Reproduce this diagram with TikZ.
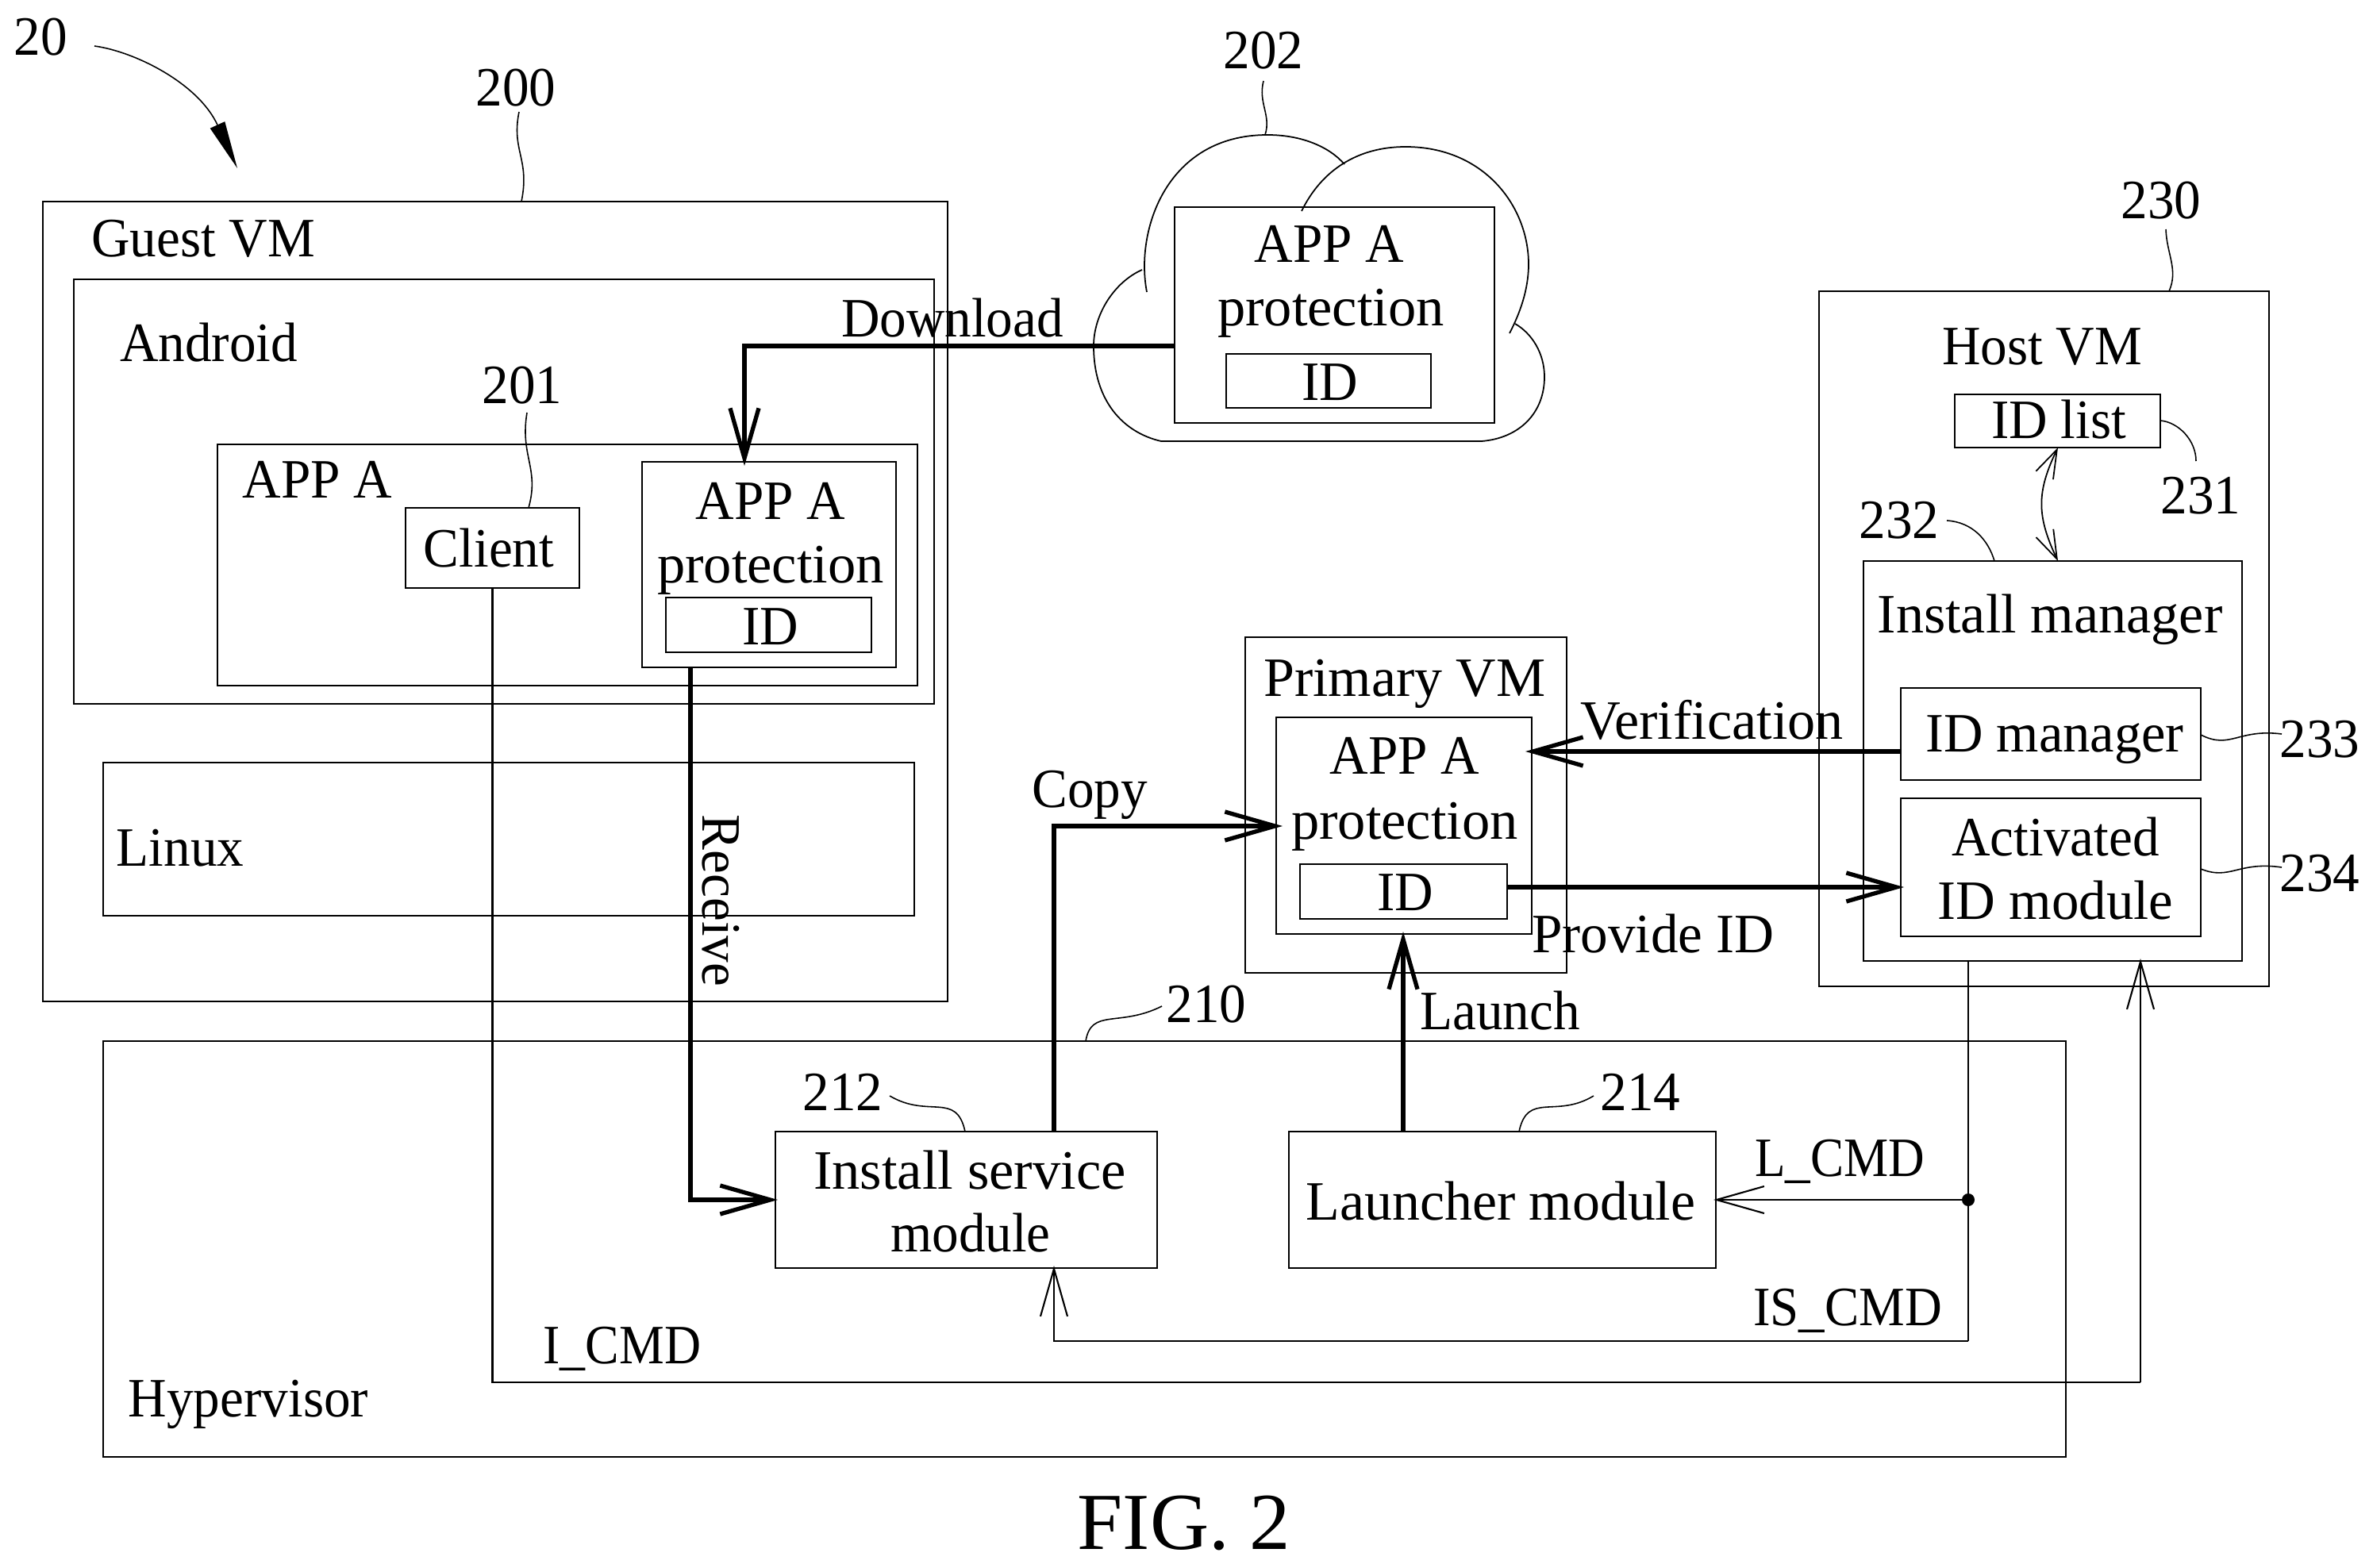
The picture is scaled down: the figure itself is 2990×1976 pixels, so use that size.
\documentclass[tikz,border=0pt]{standalone}
\usepackage{fontspec}
\setmainfont[FakeStretch=0.96]{Liberation Serif}
\usetikzlibrary{arrows.meta}
\tikzset{
  boxn/.style={draw=black,line width=0.75pt,inner sep=0pt,outer sep=0pt,fill=none},
  lbl/.style={anchor=base,inner sep=0pt,outer sep=0pt,font=\fontsize{19.9}{23}\selectfont},
  figlbl/.style={anchor=base,inner sep=0pt,outer sep=0pt,font=\fontsize{29}{31}\selectfont},
  leader/.style={draw=black,line width=0.45pt},
  outline/.style={draw=black,line width=0.5pt},
  heavy/.style={draw=black,line width=1.5pt,shorten >=-0.3mm,-{Straight Barb[length=6.3mm,width=3.6mm,line width=1.5pt]}},
  light/.style={draw=black,line width=0.6pt},
  lightarrow/.style={draw=black,line width=0.6pt,shorten >=-0.3mm,-{Straight Barb[length=6mm,width=3.4mm,line width=0.6pt]}},
  duo/.style={draw=black,line width=0.5pt,{Straight Barb[length=3.6mm,width=2.4mm,line width=0.5pt]}-{Straight Barb[length=3.6mm,width=2.4mm,line width=0.5pt]}},
}
\newcommand\bx[5]{\node[boxn,minimum width={(#4-#2)*0.01cm},minimum height={(#5-#3)*0.01cm}] (#1) at ({(#2+#4)/2},{(#3+#5)/2}) {};}
\newcommand\lb[4]{\node[lbl] (#1) at (#2,{#3+2}) {#4};}
\newcommand\sw[2]{\scalebox{#1}[1]{#2}}
\begin{document}
\begin{tikzpicture}[x=0.01cm,y=-0.01cm]
\useasboundingbox[fill=white] (0,0) rectangle (2990,1976);
% cloud
\draw[outline] (1445,368) .. controls (1430,290) and (1470,170) .. (1597,170) .. controls (1640,170) and (1675,185) .. (1694,207);
\draw[outline] (1640,266) .. controls (1665,215) and (1710,185) .. (1771,185) .. controls (1870,185) and (1926,260) .. (1926,333) .. controls (1926,365) and (1915,395) .. (1902,420);
\draw[outline] (1439,340) .. controls (1405,355) and (1378,395) .. (1378,436) .. controls (1378,505) and (1415,545) .. (1463,556) -- (1867,556) .. controls (1915,552) and (1946,520) .. (1946,475) .. controls (1946,445) and (1930,420) .. (1909,408);
% boxes
\bx{guest}{54}{254}{1194}{1262}
\bx{android}{93}{352}{1177}{887}
\bx{appa}{274}{560}{1156}{864}
\bx{client}{511}{640}{730}{741}
\bx{prot}{809}{582}{1129}{841}
\bx{protid}{839}{753}{1098}{822}
\bx{linux}{130}{961}{1152}{1154}
\bx{hyper}{130}{1312}{2603}{1836}
\bx{install}{977}{1426}{1458}{1598}
\bx{launcher}{1624}{1426}{2162}{1598}
\bx{cloudbox}{1480}{261}{1883}{533}
\bx{cloudid}{1545}{446}{1803}{514}
\bx{primary}{1569}{803}{1974}{1226}
\bx{primprot}{1608}{904}{1930}{1177}
\bx{primid}{1638}{1089}{1899}{1158}
\bx{host}{2292}{367}{2859}{1243}
\bx{idlist}{2463}{497}{2722}{564}
\bx{instmgr}{2348}{707}{2825}{1211}
\bx{idmgr}{2395}{867}{2773}{983}
\bx{activ}{2395}{1006}{2773}{1180}
% labels
\lb{t20}{51}{68}{20}
\lb{t200}{650}{132}{200}
\lb{t201}{658}{507}{201}
\lb{t202}{1592}{85}{202}
\lb{t230}{2723}{274}{230}
\lb{t231}{2773}{646}{231}
\lb{t232}{2393}{677}{232}
\lb{t233}{2923}{952}{233}
\lb{t234}{2923}{1121}{234}
\lb{t210}{1520}{1286}{210}
\lb{t212}{1062}{1397}{212}
\lb{t214}{2067}{1397}{214}
\lb{tguest}{256}{322}{Guest VM}
\lb{tandroid}{263}{454}{Android}
\lb{tappa}{400}{625}{APP A}
\lb{tclient}{616}{713}{Client}
\lb{tcapp}{1675}{329}{APP A}
\lb{tcprot}{1677}{409}{\sw{1.05}{protection}}
\lb{tcid}{1676}{503}{ID}
\lb{tdown}{1200}{423}{Download}
\lb{tgapp}{971}{652}{APP A}
\lb{tgprot}{971}{733}{\sw{1.05}{protection}}
\lb{tgid}{971}{810}{ID}
\lb{tlinux}{227}{1089}{Linux}
\node[lbl,anchor=center,rotate=-90] (trecv) at (908,1135) {Receive};
\lb{tcopy}{1373}{1015}{Copy}
\lb{tprim}{1770}{875}{\sw{1.04}{Primary VM}}
\lb{tpapp}{1770}{973}{APP A}
\lb{tpprot}{1770}{1055}{\sw{1.05}{protection}}
\lb{tpid}{1771}{1145}{ID}
\lb{tverif}{2157}{929}{\sw{1.045}{Verification}}
\lb{tprov}{2083}{1198}{\sw{1.03}{Provide ID}}
\lb{tlaunch}{1890}{1295}{Launch}
\lb{thost}{2573}{458}{Host VM}
\lb{tidlist}{2594}{551}{ID list}
\lb{timgr}{2583}{795}{\sw{1.045}{Install manager}}
\lb{tidmgr}{2589}{945}{\sw{1.02}{ID manager}}
\lb{tact}{2590}{1076}{Activated}
\lb{tidmod}{2590}{1156}{\sw{1.025}{ID module}}
\lb{tinst}{1222}{1496}{\sw{1.05}{Install service}}
\lb{tmod}{1223}{1575}{module}
\lb{tlmod}{1891}{1535}{\sw{1.04}{Launcher module}}
\lb{tlcmd}{2318}{1480}{\sw{0.94}{L\_CMD}}
\lb{tiscmd}{2328}{1668}{\sw{0.965}{IS\_CMD}}
\lb{ticmd}{784}{1716}{\sw{0.95}{I\_CMD}}
\lb{thyper}{313}{1783}{Hypervisor}
\node[figlbl] (tfig) at (1492,1952) {\sw{1.05}{FIG. 2}};
% leaders
\coordinate (a20) at (119,58);
\coordinate (e20) at (299,212);
\coordinate (a200) at (654,141);
\coordinate (a201) at (664,520);
\coordinate (a202) at (1592,102);
\coordinate (a230) at (2729,289);
\coordinate (a231) at (2767,581);
\coordinate (a232) at (2453,656);
\coordinate (a233) at (2875,925);
\coordinate (a234) at (2875,1093);
\coordinate (a210) at (1464,1268);
\coordinate (a212) at (1121,1381);
\coordinate (a214) at (2008,1381);
\draw[leader,-{Triangle[length=6mm,width=2mm]}] (a20) .. controls (170,65) and (250,105) .. (e20);
\draw[leader] (a200) .. controls (644,190) and (668,200) .. (657,0 |- guest.north);
\draw[leader] (a201) .. controls (655,575) and (680,590) .. (666,0 |- client.north);
\draw[leader] (a202) .. controls (1585,130) and (1602,145) .. (1594,170);
\draw[leader] (a230) .. controls (2730,320) and (2745,340) .. (2733,0 |- host.north);
\draw[leader] (idlist.east |- 0,530) .. controls (2745,532) and (2767,555) .. (a231);
\draw[leader] (a232) .. controls (2485,658) and (2505,680) .. (2513,0 |- instmgr.north);
\draw[leader] (idmgr.east |- 0,926) .. controls (2810,945) and (2820,918) .. (a233);
\draw[leader] (activ.east |- 0,1095) .. controls (2810,1110) and (2820,1085) .. (a234);
\draw[leader] (1368,0 |- hyper.north) .. controls (1375,1270) and (1410,1295) .. (a210);
\draw[leader] (a212) .. controls (1170,1410) and (1205,1375) .. (1216,0 |- install.north);
\draw[leader] (1914,0 |- launcher.north) .. controls (1925,1375) and (1960,1410) .. (a214);
% connectors
\draw[heavy,shorten >=-0.5mm] (cloudbox.west |- 0,436) -| (938,0 |- prot.north);
\draw[heavy] (870,0 |- prot.south) |- (install.west);
\draw[heavy,shorten >=-0.8mm] (1328,0 |- install.north) |- (primprot.west |- 0,1041);
\draw[heavy] (1768,0 |- launcher.north) -- (1768,0 |- primprot.south);
\draw[heavy,shorten >=-0.8mm] (idmgr.west |- 0,947) -- (primprot.east |- 0,947);
\draw[heavy,shorten >=-0.4mm] (primid.east |- 0,1118) -- (activ.west |- 0,1118);
\coordinate (jct) at (2480,1512);
\coordinate (isc) at (2480,1690);
\coordinate (icl) at (2697,1742);
\draw[light] (2480,0 |- instmgr.south) -- (isc);
\draw[lightarrow] (isc) -| (1328,0 |- install.south);
\draw[lightarrow] (jct) -- (launcher.east);
\fill (jct) circle (8);
\draw[light] (client.south) |- (icl);
\draw[lightarrow] (icl) -- (2697,0 |- instmgr.south);
\draw[duo] (2593,0 |- idlist.south) .. controls (2566,620) and (2566,650) .. (2593,0 |- instmgr.north);
\end{tikzpicture}
\end{document}
